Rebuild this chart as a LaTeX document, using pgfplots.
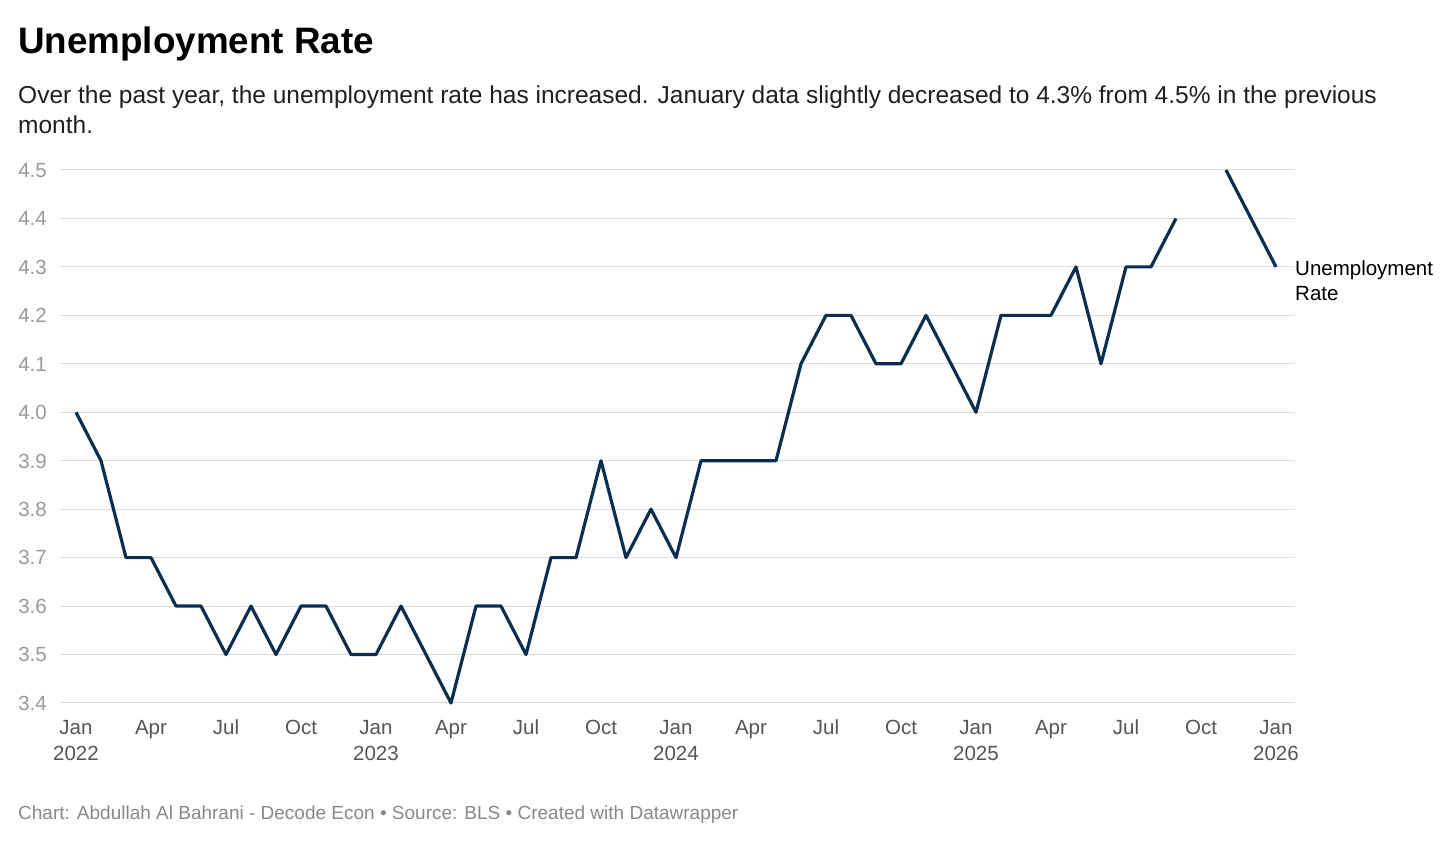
\documentclass[border=0pt]{standalone}
\usepackage{pgfplots}
\pgfplotsset{compat=1.18}
\usepackage{fontspec}
\setmainfont{Liberation Sans}
\definecolor{linenavy}{HTML}{0B2E4F}
\definecolor{gridgray}{HTML}{DDDDDD}
\definecolor{ylabgray}{HTML}{999999}
\definecolor{xlabgray}{HTML}{555555}
\definecolor{footgray}{HTML}{888888}

% monthly unemployment rate, month 0 = Jan 2022
\pgfplotstableread{
m rate
0 4.0
1 3.9
2 3.7
3 3.7
4 3.6
5 3.6
6 3.5
7 3.6
8 3.5
9 3.6
10 3.6
11 3.5
12 3.5
13 3.6
14 3.5
15 3.4
16 3.6
17 3.6
18 3.5
19 3.7
20 3.7
21 3.9
22 3.7
23 3.8
24 3.7
25 3.9
26 3.9
27 3.9
28 3.9
29 4.1
30 4.2
31 4.2
32 4.1
33 4.1
34 4.2
35 4.1
36 4.0
37 4.2
38 4.2
39 4.2
40 4.3
41 4.1
42 4.3
43 4.3
44 4.4
45 nan
46 4.5
47 4.4
48 4.3
}\ratedata

\begin{document}
\begin{tikzpicture}[x=1bp,y=1bp]
\path (0,0) rectangle (1456,842);

\node[anchor=base west, inner sep=0pt, font=\fontsize{36.8bp}{40bp}\selectfont\bfseries]
  at (18,788) {Unemployment Rate};
\node[anchor=base west, inner sep=0pt, font=\fontsize{24.5bp}{30bp}\selectfont, text=black!88]
  at (18,738) {Over the past year, the unemployment rate has increased. January data slightly decreased to 4.3\% from 4.5\% in the previous};
\node[anchor=base west, inner sep=0pt, font=\fontsize{24.5bp}{30bp}\selectfont, text=black!88]
  at (18,708) {month.};
\node[anchor=base west, inner sep=0pt, font=\fontsize{19bp}{24bp}\selectfont, text=footgray]
  at (18,23) {Chart: Abdullah Al Bahrani - Decode Econ • Source: BLS • Created with Datawrapper};

\begin{axis}[
  at={(60bp,139bp)}, anchor=south west,
  width=1235bp, height=533bp, scale only axis,
  xmin=-0.64, xmax=48.76,
  ymin=3.4, ymax=4.5,
  clip=false,
  axis line style={draw=none},
  major tick length=0pt,
  ymajorgrids=true,
  grid style={color=gridgray, line width=1bp},
  ytick={3.4,3.5,3.6,3.7,3.8,3.9,4.0,4.1,4.2,4.3,4.4,4.5},
  yticklabels={3.4,3.5,3.6,3.7,3.8,3.9,4.0,4.1,4.2,4.3,4.4,4.5},
  yticklabel style={anchor=east, inner sep=0pt, xshift=-13bp, yshift=-2.5bp,
    font=\fontsize{20.5bp}{24bp}\selectfont, text=ylabgray},
  xtick={0,3,...,48},
  xticklabels={{Jan\\2022},Apr,Jul,Oct,{Jan\\2023},Apr,Jul,Oct,{Jan\\2024},Apr,Jul,Oct,{Jan\\2025},Apr,Jul,Oct,{Jan\\2026}},
  xticklabel style={anchor=north, align=center, inner sep=0pt, yshift=-13.5bp,
    font=\fontsize{20.5bp}{26bp}\selectfont, text=xlabgray},
  typeset ticklabels with strut,
  unbounded coords=jump,
]
\addplot[color=linenavy, line width=3.2bp, line join=round] table[x=m, y=rate] {\ratedata};
\node[anchor=west, align=left, inner sep=0pt, xshift=19bp, yshift=-14bp,
  font=\fontsize{20.5bp}{25bp}\selectfont, text=black]
  at (axis cs:48,4.3) {Unemployment\\Rate};
\end{axis}
\end{tikzpicture}
\end{document}
